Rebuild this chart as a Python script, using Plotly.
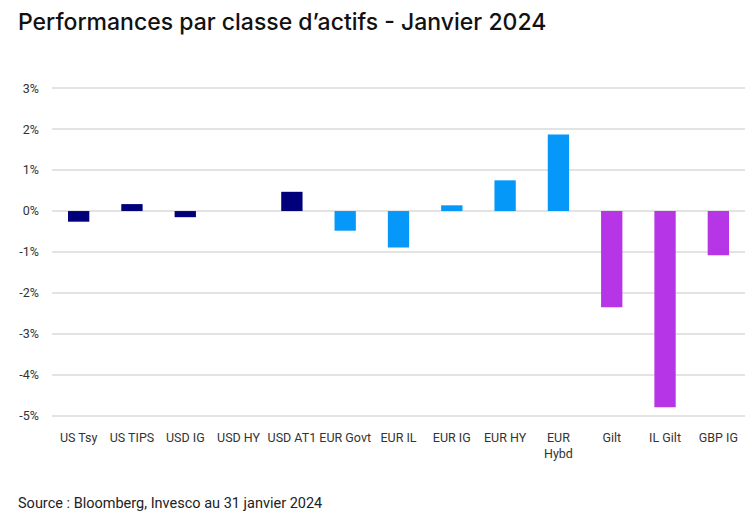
import plotly.graph_objects as go

categories = ["US Tsy", "US TIPS", "USD IG", "USD HY", "USD AT1", "EUR Govt", "EUR IL",
              "EUR IG", "EUR HY", "EUR<br>Hybd", "Gilt", "IL Gilt", "GBP IG"]
values = [-0.26, 0.17, -0.15, 0.0, 0.47, -0.48, -0.89, 0.14, 0.75, 1.87, -2.35, -4.79, -1.08]
groups = ["USD", "USD", "USD", "USD", "USD", "EUR", "EUR", "EUR", "EUR", "EUR", "GBP", "GBP", "GBP"]
group_colors = {"USD": "#00007A", "EUR": "#0598F8", "GBP": "#B635E6"}
y_ticks = [3, 2, 1, 0, -1, -2, -3, -4, -5]
y_tick_labels = ["3%", "2%", "1%", "0%", "-1%", "-2%", "-3%", "-4%", "-5%"]

colors = [group_colors[g] for g in groups]

W, H = 748, 522
L, R, T, B = 42, 11, 72, 106
PW, PH = W - L - R, H - T - B

fig = go.Figure(go.Bar(
    x=categories, y=values,
    marker=dict(color=colors, line=dict(width=0)),
    hoverinfo="skip",
))

fig.update_layout(
    width=W, height=H,
    margin=dict(l=L, r=R, t=T, b=B),
    paper_bgcolor="white", plot_bgcolor="white",
    bargap=0.6,
    showlegend=False,
    font=dict(family="Roboto", size=12.5, color="#333333"),
    annotations=[
        dict(text="Performances par classe d\u2019actifs - Janvier 2024", xref="paper", yref="paper",
             x=(6 - L) / PW, y=1 + (T - 14) / PH, xanchor="left", yanchor="middle", showarrow=False,
             font=dict(family="Inter", size=23, color="#111111", weight=500)),
        dict(text="Source : Bloomberg, Invesco au 31 janvier 2024", xref="paper", yref="paper",
             x=(6 - L) / PW, y=-(495 - (H - B)) / PH, xanchor="left", yanchor="middle", showarrow=False,
             font=dict(family="Roboto", size=14.5, color="#222222")),
    ],
)
fig.update_xaxes(showgrid=False, showline=False, zeroline=False, ticks="",
                 tickfont=dict(size=12.5, color="#333333"), ticklabelstandoff=4)
fig.update_yaxes(range=[-5.2, 3.2], tickvals=y_ticks, ticktext=y_tick_labels,
                 showgrid=True, gridcolor="#E3E3E3", gridwidth=1.5, zeroline=True,
                 zerolinecolor="#E3E3E3", zerolinewidth=1.5, showline=False, ticks="",
                 tickfont=dict(size=12.5, color="#333333"), ticklabelstandoff=12)

fig.write_html("out.html")
